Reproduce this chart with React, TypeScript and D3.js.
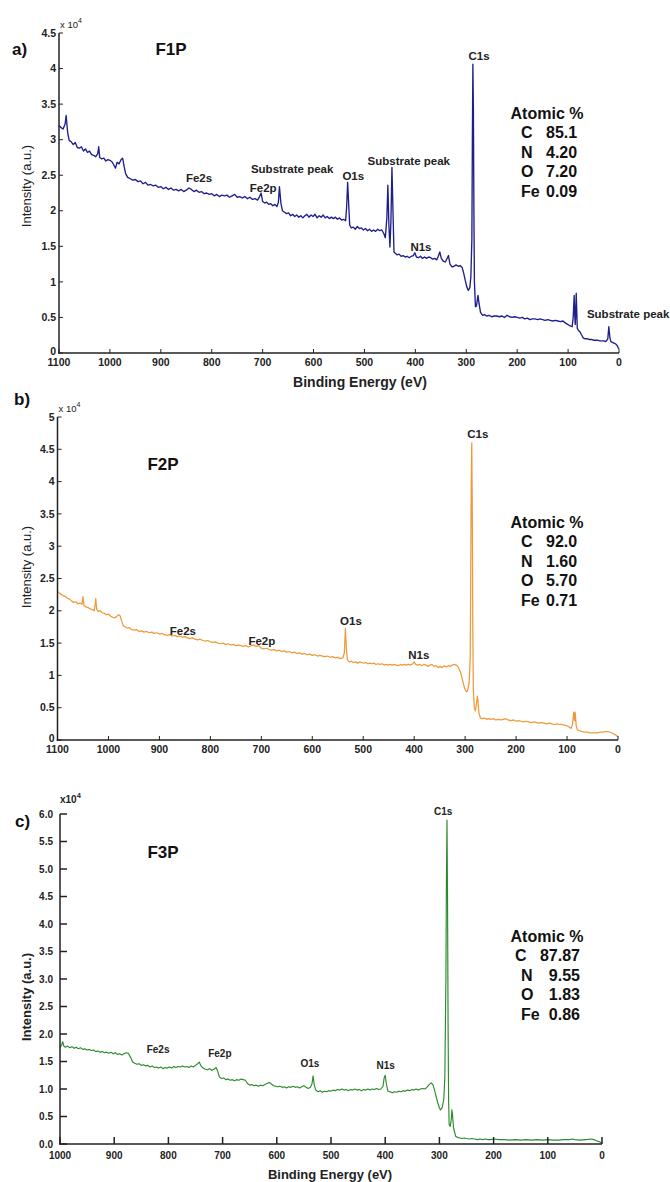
import * as d3 from "d3";

const FONT = "'Liberation Sans', Arial, Helvetica, sans-serif";

// binding energy (eV), intensity (x10^4 counts)
const f1pSpectrum: [number, number][] = [
  [1100, 3.2], [1096, 3.17], [1092, 3.15], [1088, 3.22], [1086, 3.34], [1083, 3.1], [1080, 2.99], [1076, 2.97],
  [1072, 2.93], [1068, 2.96], [1064, 2.89], [1060, 2.88], [1056, 2.9], [1052, 2.84], [1048, 2.87], [1044, 2.82],
  [1040, 2.84], [1036, 2.79], [1032, 2.78], [1028, 2.76], [1024, 2.8], [1022, 2.9], [1020, 2.75], [1016, 2.73],
  [1012, 2.74], [1008, 2.7], [1004, 2.72], [1000, 2.71], [996, 2.69], [992, 2.64], [989, 2.6], [986, 2.68],
  [982, 2.66], [978, 2.72], [975, 2.74], [972, 2.62], [969, 2.52], [965, 2.47], [960, 2.45], [955, 2.43],
  [950, 2.44], [945, 2.41], [940, 2.42], [935, 2.38], [930, 2.4], [925, 2.36], [920, 2.37], [915, 2.35],
  [910, 2.36], [905, 2.33], [900, 2.34], [895, 2.31], [890, 2.33], [885, 2.3], [880, 2.32], [875, 2.29],
  [870, 2.3], [865, 2.28], [860, 2.3], [855, 2.27], [850, 2.29], [845, 2.32], [840, 2.3], [835, 2.27],
  [830, 2.29], [825, 2.26], [820, 2.27], [815, 2.24], [810, 2.25], [805, 2.23], [800, 2.24], [795, 2.21],
  [790, 2.23], [785, 2.2], [780, 2.22], [775, 2.21], [770, 2.22], [765, 2.19], [760, 2.21], [755, 2.23],
  [750, 2.19], [745, 2.2], [740, 2.18], [735, 2.2], [730, 2.17], [725, 2.19], [720, 2.16], [715, 2.17],
  [710, 2.15], [706, 2.2], [703, 2.25], [700, 2.13], [696, 2.11], [692, 2.12], [688, 2.09], [684, 2.1],
  [680, 2.07], [676, 2.09], [672, 2.06], [669, 2.12], [667, 2.34], [664, 2.1], [661, 2.0], [657, 1.98],
  [653, 1.96], [649, 1.97], [645, 1.93], [641, 1.95], [637, 1.92], [633, 1.94], [629, 1.91], [625, 1.93],
  [621, 1.9], [617, 1.93], [613, 1.95], [609, 1.91], [605, 1.94], [601, 1.92], [597, 1.95], [593, 1.9],
  [589, 1.93], [585, 1.91], [581, 1.94], [577, 1.9], [573, 1.92], [569, 1.89], [565, 1.91], [561, 1.89],
  [557, 1.91], [553, 1.88], [549, 1.9], [545, 1.87], [541, 1.88], [537, 1.86], [535, 2.05], [533, 2.4],
  [531, 2.1], [529, 1.8], [526, 1.76], [522, 1.77], [518, 1.74], [514, 1.78], [510, 1.75], [506, 1.76],
  [502, 1.73], [498, 1.75], [494, 1.72], [490, 1.74], [486, 1.71], [482, 1.73], [478, 1.71], [474, 1.74],
  [470, 1.72], [466, 1.73], [462, 1.68], [459, 1.62], [456, 1.9], [454, 2.36], [452, 1.8], [450, 1.49],
  [448, 1.85], [446, 2.61], [444, 2.0], [442, 1.42], [439, 1.4], [436, 1.38], [432, 1.39], [428, 1.36],
  [424, 1.37], [420, 1.35], [416, 1.36], [412, 1.34], [408, 1.36], [404, 1.37], [401, 1.41], [398, 1.35],
  [394, 1.34], [390, 1.36], [386, 1.33], [382, 1.35], [378, 1.33], [374, 1.35], [370, 1.34], [366, 1.32],
  [362, 1.33], [358, 1.31], [355, 1.36], [352, 1.42], [349, 1.33], [345, 1.29], [341, 1.28], [337, 1.34],
  [335, 1.37], [332, 1.25], [328, 1.21], [324, 1.22], [320, 1.24], [316, 1.22], [312, 1.23], [308, 1.2],
  [305, 1.12], [302, 1.02], [299, 0.93], [296, 0.88], [293, 0.92], [291, 1.07], [289, 1.6], [288, 3.0],
  [287, 4.06], [286, 3.4], [285, 2.0], [284, 1.0], [282, 0.65], [280, 0.66], [278, 0.76], [277, 0.81],
  [275, 0.7], [272, 0.57], [268, 0.53], [264, 0.54], [260, 0.52], [255, 0.53], [250, 0.51], [245, 0.52],
  [240, 0.52], [235, 0.51], [230, 0.52], [225, 0.5], [220, 0.53], [215, 0.51], [210, 0.5], [205, 0.51],
  [200, 0.5], [195, 0.49], [190, 0.5], [185, 0.48], [180, 0.49], [175, 0.47], [170, 0.48], [165, 0.48],
  [160, 0.47], [155, 0.48], [150, 0.47], [145, 0.46], [140, 0.47], [135, 0.46], [130, 0.45], [125, 0.46],
  [120, 0.45], [115, 0.44], [110, 0.45], [105, 0.42], [100, 0.4], [96, 0.38], [92, 0.37], [90, 0.5],
  [88, 0.81], [87, 0.55], [86, 0.4], [85, 0.55], [84, 0.84], [83, 0.6], [82, 0.35], [80, 0.32],
  [77, 0.3], [74, 0.26], [70, 0.21], [66, 0.2], [62, 0.2], [58, 0.19], [54, 0.19], [50, 0.18],
  [46, 0.18], [42, 0.18], [38, 0.17], [34, 0.17], [30, 0.17], [26, 0.16], [22, 0.2], [20, 0.37],
  [18, 0.22], [16, 0.16], [13, 0.15], [10, 0.14], [7, 0.13], [4, 0.11], [2, 0.08], [0, 0.06],
];

const f2pSpectrum: [number, number][] = [
  [1100, 2.3], [1096, 2.27], [1092, 2.25], [1088, 2.23], [1084, 2.22], [1080, 2.19], [1076, 2.18], [1072, 2.15],
  [1068, 2.13], [1064, 2.14], [1060, 2.11], [1056, 2.12], [1052, 2.1], [1050, 2.22], [1048, 2.08], [1044, 2.06],
  [1040, 2.05], [1036, 2.03], [1032, 2.02], [1028, 2.0], [1026, 2.1], [1025, 2.19], [1023, 2.02], [1020, 1.99],
  [1016, 2.0], [1012, 1.97], [1008, 1.96], [1004, 1.94], [1000, 1.95], [996, 1.92], [992, 1.9], [988, 1.89],
  [984, 1.91], [980, 1.94], [977, 1.92], [974, 1.84], [971, 1.77], [967, 1.75], [963, 1.73], [959, 1.74],
  [955, 1.71], [950, 1.7], [945, 1.71], [940, 1.68], [935, 1.69], [930, 1.67], [925, 1.68], [920, 1.66],
  [915, 1.67], [910, 1.65], [905, 1.66], [900, 1.64], [895, 1.65], [890, 1.63], [885, 1.62], [880, 1.63],
  [875, 1.61], [870, 1.62], [865, 1.6], [860, 1.61], [855, 1.59], [850, 1.6], [845, 1.58], [840, 1.57],
  [835, 1.58], [830, 1.56], [825, 1.55], [820, 1.56], [815, 1.54], [810, 1.53], [805, 1.54], [800, 1.52],
  [795, 1.51], [790, 1.52], [785, 1.5], [780, 1.49], [775, 1.5], [770, 1.48], [765, 1.49], [760, 1.47],
  [755, 1.48], [750, 1.46], [745, 1.47], [740, 1.46], [735, 1.45], [730, 1.46], [725, 1.44], [720, 1.46],
  [715, 1.47], [710, 1.45], [705, 1.46], [700, 1.42], [695, 1.41], [690, 1.42], [685, 1.4], [680, 1.39],
  [675, 1.4], [670, 1.38], [665, 1.39], [660, 1.37], [655, 1.38], [650, 1.36], [645, 1.37], [640, 1.35],
  [635, 1.36], [630, 1.34], [625, 1.35], [620, 1.33], [615, 1.34], [610, 1.32], [605, 1.33], [600, 1.31],
  [595, 1.32], [590, 1.3], [585, 1.31], [580, 1.3], [575, 1.29], [570, 1.3], [565, 1.28], [560, 1.29],
  [555, 1.27], [550, 1.28], [545, 1.26], [540, 1.27], [537, 1.35], [535, 1.73], [533, 1.4], [531, 1.24],
  [527, 1.21], [523, 1.22], [519, 1.2], [515, 1.21], [511, 1.19], [507, 1.21], [503, 1.2], [499, 1.19],
  [495, 1.2], [491, 1.18], [487, 1.19], [483, 1.18], [479, 1.19], [475, 1.17], [471, 1.18], [467, 1.17],
  [463, 1.18], [459, 1.16], [455, 1.17], [451, 1.16], [447, 1.17], [443, 1.16], [439, 1.17], [435, 1.16],
  [431, 1.15], [427, 1.17], [423, 1.16], [419, 1.17], [415, 1.16], [411, 1.17], [407, 1.16], [403, 1.18],
  [400, 1.21], [397, 1.17], [393, 1.16], [389, 1.17], [385, 1.15], [381, 1.17], [377, 1.16], [373, 1.14],
  [369, 1.16], [365, 1.17], [361, 1.14], [357, 1.15], [353, 1.12], [349, 1.14], [345, 1.12], [341, 1.15],
  [337, 1.13], [333, 1.15], [329, 1.14], [325, 1.16], [321, 1.17], [317, 1.16], [313, 1.12], [309, 1.05],
  [305, 0.92], [301, 0.8], [298, 0.75], [295, 0.76], [292, 0.9], [290, 1.3], [289, 2.6], [288, 4.0],
  [287, 4.6], [286, 3.6], [285, 1.8], [284, 0.8], [282, 0.5], [280, 0.45], [278, 0.55], [276, 0.68],
  [275, 0.62], [273, 0.42], [270, 0.34], [266, 0.33], [262, 0.34], [258, 0.32], [254, 0.33], [250, 0.32],
  [245, 0.33], [240, 0.31], [235, 0.32], [230, 0.31], [225, 0.32], [220, 0.33], [216, 0.31], [210, 0.3],
  [205, 0.31], [200, 0.29], [195, 0.3], [190, 0.29], [185, 0.28], [180, 0.29], [175, 0.28], [170, 0.27],
  [165, 0.28], [160, 0.27], [155, 0.26], [150, 0.27], [145, 0.26], [140, 0.25], [135, 0.26], [130, 0.25],
  [125, 0.24], [120, 0.25], [115, 0.24], [110, 0.24], [105, 0.23], [100, 0.22], [96, 0.2], [92, 0.18],
  [89, 0.25], [87, 0.43], [85, 0.3], [84, 0.43], [82, 0.22], [80, 0.16], [75, 0.14], [70, 0.13],
  [65, 0.12], [60, 0.12], [55, 0.11], [50, 0.11], [45, 0.11], [40, 0.11], [35, 0.12], [30, 0.12],
  [25, 0.13], [20, 0.13], [15, 0.12], [10, 0.1], [5, 0.08], [0, 0.05],
];

const f3pSpectrum: [number, number][] = [
  [1000, 1.75], [997, 1.8], [995, 1.86], [993, 1.78], [990, 1.76], [986, 1.78], [982, 1.75], [978, 1.77],
  [974, 1.74], [970, 1.76], [966, 1.73], [962, 1.75], [958, 1.72], [954, 1.73], [950, 1.71], [946, 1.72],
  [942, 1.7], [938, 1.71], [934, 1.68], [930, 1.69], [926, 1.67], [922, 1.68], [918, 1.66], [914, 1.67],
  [910, 1.65], [906, 1.67], [902, 1.64], [898, 1.66], [894, 1.63], [890, 1.64], [886, 1.62], [882, 1.64],
  [878, 1.66], [874, 1.65], [870, 1.58], [866, 1.49], [862, 1.47], [858, 1.45], [854, 1.46], [850, 1.43],
  [846, 1.44], [842, 1.42], [838, 1.43], [834, 1.4], [830, 1.42], [826, 1.39], [822, 1.4], [818, 1.38],
  [814, 1.4], [810, 1.37], [806, 1.39], [802, 1.38], [798, 1.4], [794, 1.38], [790, 1.41], [786, 1.39],
  [782, 1.41], [778, 1.4], [774, 1.42], [770, 1.4], [766, 1.41], [762, 1.39], [758, 1.42], [754, 1.4],
  [750, 1.43], [746, 1.46], [743, 1.49], [740, 1.42], [736, 1.38], [732, 1.36], [728, 1.35], [724, 1.37],
  [720, 1.34], [716, 1.36], [712, 1.39], [709, 1.32], [706, 1.22], [702, 1.19], [698, 1.2], [694, 1.17],
  [690, 1.18], [686, 1.16], [682, 1.17], [678, 1.15], [674, 1.17], [670, 1.16], [666, 1.18], [662, 1.17],
  [658, 1.16], [654, 1.1], [650, 1.07], [646, 1.08], [642, 1.06], [638, 1.07], [634, 1.05], [630, 1.07],
  [626, 1.06], [622, 1.08], [618, 1.1], [614, 1.12], [610, 1.09], [606, 1.06], [602, 1.05], [598, 1.04],
  [594, 1.05], [590, 1.03], [586, 1.04], [582, 1.02], [578, 1.04], [574, 1.03], [570, 1.05], [566, 1.03],
  [562, 1.04], [558, 1.02], [554, 1.04], [550, 1.06], [546, 1.03], [542, 1.01], [538, 1.03], [535, 1.1],
  [533, 1.24], [531, 1.08], [528, 0.98], [524, 0.95], [520, 0.97], [516, 0.94], [512, 0.96], [508, 0.95],
  [504, 0.97], [500, 0.96], [496, 0.98], [492, 0.97], [488, 0.99], [484, 0.98], [480, 1.0], [476, 0.98],
  [472, 0.99], [468, 0.97], [464, 0.99], [460, 0.98], [456, 1.0], [452, 0.98], [448, 0.99], [444, 0.97],
  [440, 0.99], [436, 0.98], [432, 1.0], [428, 0.98], [424, 1.0], [420, 0.99], [416, 1.01], [412, 0.99],
  [408, 1.0], [404, 1.05], [402, 1.2], [400, 1.25], [398, 1.1], [395, 0.96], [391, 0.95], [387, 0.93],
  [383, 0.95], [379, 0.94], [375, 0.96], [371, 0.95], [367, 0.97], [363, 0.96], [359, 0.98], [355, 0.97],
  [351, 0.99], [347, 0.98], [343, 1.0], [339, 0.98], [335, 1.0], [331, 1.01], [327, 1.0], [323, 1.03],
  [319, 1.08], [315, 1.11], [312, 1.08], [309, 0.98], [306, 0.86], [303, 0.75], [300, 0.66], [298, 0.62],
  [295, 0.66], [292, 0.8], [290, 1.2], [288, 3.0], [287, 4.8], [286, 5.89], [285, 4.5], [284, 2.2],
  [283, 0.8], [282, 0.35], [280, 0.32], [278, 0.45], [277, 0.62], [276, 0.55], [274, 0.3], [272, 0.22],
  [270, 0.14], [266, 0.12], [262, 0.11], [258, 0.1], [254, 0.11], [250, 0.1], [245, 0.09], [240, 0.1],
  [235, 0.09], [230, 0.08], [225, 0.09], [220, 0.08], [215, 0.09], [210, 0.08], [205, 0.08], [200, 0.09],
  [190, 0.08], [180, 0.08], [170, 0.07], [160, 0.08], [150, 0.07], [140, 0.08], [130, 0.07], [120, 0.08],
  [110, 0.07], [100, 0.08], [90, 0.07], [80, 0.07], [70, 0.08], [60, 0.08], [55, 0.09], [50, 0.08],
  [40, 0.07], [30, 0.08], [20, 0.09], [15, 0.08], [10, 0.06], [5, 0.04], [0, 0.02],
];

const xTicksWide = [1100, 1000, 900, 800, 700, 600, 500, 400, 300, 200, 100, 0];
const xTicksNarrow = [1000, 900, 800, 700, 600, 500, 400, 300, 200, 100, 0];
const yTicksA = [0, 0.5, 1, 1.5, 2, 2.5, 3, 3.5, 4, 4.5];
const yTicksB = [0, 0.5, 1, 1.5, 2, 2.5, 3, 3.5, 4, 4.5, 5];
const yTicksC = [0, 0.5, 1, 1.5, 2, 2.5, 3, 3.5, 4, 4.5, 5, 5.5, 6];

const f1pAtomic = [["C", "85.1"], ["N", "4.20"], ["O", "7.20"], ["Fe", "0.09"]];
const f2pAtomic = [["C", "92.0"], ["N", "1.60"], ["O", "5.70"], ["Fe", "0.71"]];
const f3pAtomic = [["C", "87.87"], ["N", "9.55"], ["O", "1.83"], ["Fe", "0.86"]];

// peak labels: [text, eV, intensity at baseline, anchor]
const f1pPeaks: [string, number, number, string][] = [
  ["C1s", 275, 4.12, "middle"],
  ["Substrate peak", 413, 2.65, "middle"],
  ["O1s", 522, 2.43, "middle"],
  ["N1s", 389, 1.43, "middle"],
  ["Substrate peak", 63, 0.49, "start"],
  ["Fe2s", 825, 2.4, "middle"],
  ["Substrate peak", 642, 2.53, "middle"],
  ["Fe2p", 699, 2.26, "middle"],
];
const f2pPeaks: [string, number, number, string][] = [
  ["C1s", 275, 4.67, "middle"],
  ["O1s", 524, 1.78, "middle"],
  ["N1s", 391, 1.25, "middle"],
  ["Fe2s", 854, 1.63, "middle"],
  ["Fe2p", 699, 1.47, "middle"],
];
const f3pPeaks: [string, number, number, string][] = [
  ["C1s", 293, 5.98, "middle"],
  ["N1s", 399, 1.36, "middle"],
  ["Fe2s", 819, 1.65, "middle"],
  ["Fe2p", 705, 1.58, "middle"],
  ["O1s", 539, 1.4, "middle"],
];

type PanelCfg = {
  letter: string;
  name: string;
  data: [number, number][];
  color: string;
  lineWidth: number;
  xTicks: number[];
  yTicks: number[];
  yFmt: (v: number) => string;
  atomic: string[][];
  peaks: [string, number, number, string][];
  box: { left: number; right: number; top: number; bottom: number };
  style: "matlab" | "origin";
  xTitle: boolean;
  letterPos: [number, number];
  namePos: [number, number];
  atomicY: number;
  yTitleY: number;
  xTitlePos: [number, number];
};

const panels: PanelCfg[] = [
  {
    letter: "a)", name: "F1P", data: f1pSpectrum, color: "#1e1e8c", lineWidth: 1.35,
    xTicks: xTicksWide, yTicks: yTicksA, yFmt: (v) => String(v),
    atomic: f1pAtomic, peaks: f1pPeaks,
    box: { left: 59, right: 619, top: 33, bottom: 353 },
    style: "matlab", xTitle: true,
    letterPos: [12, 55], namePos: [171, 55], atomicY: 119, yTitleY: 186, xTitlePos: [360, 387],
  },
  {
    letter: "b)", name: "F2P", data: f2pSpectrum, color: "#ee9a3a", lineWidth: 1.25,
    xTicks: xTicksWide, yTicks: yTicksB, yFmt: (v) => String(v),
    atomic: f2pAtomic, peaks: f2pPeaks,
    box: { left: 57.5, right: 618, top: 417, bottom: 740 },
    style: "matlab", xTitle: false,
    letterPos: [14, 405], namePos: [163, 470], atomicY: 528, yTitleY: 567, xTitlePos: [0, 0],
  },
  {
    letter: "c)", name: "F3P", data: f3pSpectrum, color: "#2b8a2b", lineWidth: 1.15,
    xTicks: xTicksNarrow, yTicks: yTicksC, yFmt: (v) => v.toFixed(1),
    atomic: f3pAtomic, peaks: f3pPeaks,
    box: { left: 60, right: 602, top: 814, bottom: 1144 },
    style: "origin", xTitle: true,
    letterPos: [15, 827], namePos: [163, 858], atomicY: 942, yTitleY: 997, xTitlePos: [330, 1179],
  },
];

function Panel({ cfg }: { cfg: PanelCfg }) {
  const { box } = cfg;
  const xDomain = [cfg.xTicks[0], cfg.xTicks[cfg.xTicks.length - 1]];
  const yDomain = [cfg.yTicks[0], cfg.yTicks[cfg.yTicks.length - 1]];
  const x = d3.scaleLinear().domain(xDomain).range([box.left, box.right]);
  const y = d3.scaleLinear().domain(yDomain).range([box.bottom, box.top]);
  const line = d3.line<[number, number]>().x((d) => x(d[0])).y((d) => y(d[1]));
  const origin = cfg.style === "origin";
  const tickLen = origin ? 7 : 4;
  const tickFs = origin ? 10 : 10.5;
  const axisColor = "#222";

  return (
    <g fontFamily={FONT}>
      <path d={line(cfg.data) || ""} fill="none" stroke={cfg.color} strokeWidth={cfg.lineWidth} strokeLinejoin="round" />

      {/* axes */}
      <line x1={box.left} x2={box.left} y1={box.top} y2={box.bottom + 0.75} stroke={axisColor} strokeWidth={1.5} />
      <line x1={box.left - 0.75} x2={box.right} y1={box.bottom} y2={box.bottom} stroke={axisColor} strokeWidth={1.5} />

      {cfg.yTicks.map((t) => (
        <g key={"y" + t}>
          <line x1={box.left} x2={box.left + tickLen} y1={y(t)} y2={y(t)} stroke={axisColor} strokeWidth={origin ? 1.5 : 1} />
          <text
            x={box.left - (origin ? 7 : 3)}
            y={y(t)}
            dy={origin ? "0.35em" : t === 0 ? "0.15em" : "0.35em"}
            textAnchor="end"
            fontSize={tickFs}
            fontWeight="bold"
            fill="#222"
          >
            {cfg.yFmt(t)}
          </text>
        </g>
      ))}

      {cfg.xTicks.map((t) => (
        <g key={"x" + t}>
          <line x1={x(t)} x2={x(t)} y1={box.bottom} y2={box.bottom - tickLen} stroke={axisColor} strokeWidth={origin ? 1.5 : 1} />
          <text x={x(t)} y={box.bottom + (origin ? 15 : 13)} textAnchor="middle" fontSize={tickFs} fontWeight="bold" fill="#222">
            {t}
          </text>
        </g>
      ))}

      {/* exponent */}
      {origin ? (
        <text x={box.left} y={box.top - 11} fontSize={10} fontWeight="bold" fill="#222">
          x10<tspan dy={-5} fontSize={7.5}>4</tspan>
        </text>
      ) : (
        <text x={box.left + 1} y={box.top - 5} fontSize={9.5} fill="#222">
          x 10<tspan dy={-5} fontSize={7}>4</tspan>
        </text>
      )}

      {/* axis titles */}
      <text
        transform={`translate(31,${cfg.yTitleY}) rotate(-90)`}
        textAnchor="middle"
        fontSize={13}
        fontWeight={origin ? "bold" : "normal"}
        fill="#222"
      >
        Intensity (a.u.)
      </text>
      {cfg.xTitle && (
        <text x={cfg.xTitlePos[0]} y={cfg.xTitlePos[1]} textAnchor="middle" fontSize={origin ? 13 : 14} fontWeight="bold" fill="#222">
          Binding Energy (eV)
        </text>
      )}

      {/* panel letter and sample name */}
      <text x={cfg.letterPos[0]} y={cfg.letterPos[1]} fontSize={17} fontWeight="bold" fill="#111">
        {cfg.letter}
      </text>
      <text x={cfg.namePos[0]} y={cfg.namePos[1]} textAnchor="middle" fontSize={17} fontWeight="bold" fill="#111">
        {cfg.name}
      </text>

      {/* peak labels */}
      {cfg.peaks.map(([label, ev, v, anchor], i) => (
        <text
          key={"p" + i}
          x={x(ev)}
          y={y(v)}
          textAnchor={anchor}
          fontSize={origin ? 10 : 11.5}
          fontWeight="bold"
          fill="#222"
        >
          {label}
        </text>
      ))}

      {/* atomic composition */}
      <text x={547} y={cfg.atomicY} textAnchor="middle" fontSize={16} fontWeight="bold" fill="#111">
        Atomic %
      </text>
      {cfg.atomic.map(([el, val], i) => (
        <g key={"a" + el}>
          <text x={origin && el === "C" ? 515 : 521} y={cfg.atomicY + 19.4 * (i + 1)} fontSize={16} fontWeight="bold" fill="#111">
            {el}
          </text>
          <text
            x={origin ? 580 : 546}
            y={cfg.atomicY + 19.4 * (i + 1)}
            textAnchor={origin ? "end" : "start"}
            fontSize={16}
            fontWeight="bold"
            fill="#111"
          >
            {val}
          </text>
        </g>
      ))}
    </g>
  );
}

export default function App() {
  return (
    <svg
      width={670}
      height={1182}
      viewBox="0 0 670 1182"
      style={{ position: "absolute", left: 0, top: 0, background: "#fff" }}
    >
      <rect width={670} height={1182} fill="#fff" />
      {panels.map((p) => (
        <Panel key={p.name} cfg={p} />
      ))}
    </svg>
  );
}
